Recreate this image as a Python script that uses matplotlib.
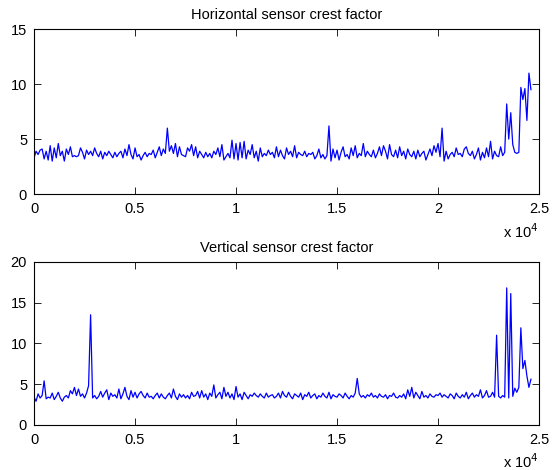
import matplotlib
matplotlib.use("Agg")
import matplotlib.pyplot as plt
import numpy as np

plt.rcParams["font.family"] = ["Liberation Sans", "DejaVu Sans"]

# sample positions (every 100 samples)
samples = np.arange(0, 24700, 100)

horizontal_cf = [
    3.3, 3.9, 3.6, 4.0, 4.1, 3.2, 3.9, 3.1, 4.4, 3.0, 4.2, 3.3, 4.6, 3.5, 3.9, 3.0, 4.1, 3.6, 4.3, 3.4,
    3.5, 3.4, 3.5, 4.2, 3.8, 3.2, 4.0, 3.6, 3.9, 3.5, 4.2, 3.7, 3.4, 3.9, 3.2, 3.8, 3.5, 3.9, 3.6, 3.3,
    3.8, 3.4, 3.7, 3.9, 3.3, 4.1, 3.5, 4.5, 3.6, 3.2, 4.2, 3.4, 3.6, 3.1, 3.5, 3.8, 3.4, 3.7, 3.6, 4.0,
    3.3, 3.8, 4.3, 3.5, 4.1, 3.7, 6.0, 3.9, 4.4, 3.7, 4.6, 3.4, 4.3, 3.6, 3.5, 3.4, 4.2, 3.9, 4.5, 3.5,
    4.3, 3.3, 3.9, 3.6, 3.3, 3.8, 3.4, 3.7, 3.3, 3.9, 3.6, 4.2, 3.4, 4.5, 3.1, 3.4, 3.7, 3.3, 4.9, 3.2,
    4.6, 3.1, 4.7, 3.3, 4.8, 3.2, 4.0, 3.6, 4.5, 3.3, 3.9, 3.0, 4.2, 3.4, 3.7, 3.5, 4.0, 3.6, 3.8, 3.3,
    4.3, 3.4, 4.0, 3.5, 3.2, 4.2, 3.6, 3.9, 3.4, 4.4, 3.3, 3.8, 3.6, 3.5, 3.9, 3.4, 3.7, 3.6, 3.8, 3.2,
    3.5, 4.1, 3.3, 3.6, 3.2, 3.5, 6.2, 3.0, 4.1, 3.3, 4.0, 3.1, 3.8, 4.3, 3.4, 3.6, 3.2, 4.2, 3.5, 4.4,
    3.3, 3.7, 3.5, 4.6, 3.4, 3.9, 3.6, 3.4, 4.0, 3.3, 3.7, 4.3, 3.5, 4.4, 3.9, 3.2, 4.5, 3.6, 3.4, 4.0,
    3.3, 4.3, 3.5, 3.9, 3.2, 4.1, 3.6, 3.4, 3.9, 3.2, 4.0, 3.4, 3.7, 3.9, 3.1, 3.6, 4.1, 3.5, 4.4, 3.8,
    4.6, 3.4, 6.0, 3.0, 3.9, 3.2, 3.6, 3.8, 3.4, 4.2, 3.6, 3.7, 3.4, 4.1, 4.3, 3.7, 3.5, 3.9, 3.2, 3.6,
    4.2, 3.1, 3.8, 3.3, 4.2, 3.4, 4.8, 3.2, 3.9, 3.5, 3.4, 4.3, 3.5, 3.8, 8.2, 5.0, 7.4, 4.5, 3.8, 3.7,
    3.8, 9.7, 8.6, 9.6, 6.7, 11.0, 9.5,
]

vertical_cf = [
    3.4, 2.9, 3.8, 3.3, 3.6, 5.4, 3.2, 3.4, 3.3, 3.9, 3.1, 3.5, 4.0, 3.3, 2.9, 3.4, 3.6, 3.3, 4.2, 3.8,
    4.6, 3.6, 4.4, 3.5, 3.8, 3.3, 3.9, 4.8, 13.5, 3.3, 3.6, 3.2, 3.5, 4.1, 3.4, 3.9, 4.3, 3.1, 3.9, 3.5,
    3.7, 3.3, 4.4, 3.2, 3.8, 4.6, 3.5, 3.1, 4.2, 3.4, 4.0, 3.3, 3.8, 4.1, 3.6, 3.3, 3.9, 3.4, 3.5, 3.2,
    3.6, 3.9, 3.3, 3.8, 3.4, 3.2, 3.6, 3.9, 3.3, 4.4, 3.5, 3.1, 3.8, 3.4, 3.7, 3.3, 3.6, 3.2, 4.0, 3.5,
    3.6, 4.1, 3.3, 4.2, 3.4, 3.8, 3.1, 3.9, 3.5, 4.9, 3.3, 3.7, 4.0, 3.2, 4.6, 3.5, 4.0, 3.3, 3.8, 3.1,
    4.7, 3.4, 3.8, 3.1, 4.0, 3.6, 3.2, 3.7, 3.5, 3.9, 3.6, 3.4, 3.8, 3.5, 3.3, 3.9, 3.4, 3.6, 3.7, 3.3,
    3.5, 3.9, 3.3, 4.1, 3.6, 3.4, 4.0, 3.5, 3.2, 3.8, 3.6, 3.4, 3.9, 3.1, 3.7, 3.5, 4.0, 3.3, 3.6, 3.8,
    3.2, 3.6, 3.4, 3.9, 3.5, 3.3, 4.0, 3.2, 3.7, 3.5, 3.4, 3.8, 3.6, 3.3, 3.9, 3.5, 3.2, 3.6, 3.4, 3.9,
    5.7, 3.8, 3.4, 3.6, 3.3, 3.7, 3.5, 3.9, 3.4, 3.6, 3.3, 3.8, 3.5, 3.4, 3.7, 3.2, 3.6, 3.5, 3.9, 3.4,
    3.3, 3.6, 3.4, 3.8, 3.2, 4.3, 3.5, 4.6, 3.3, 4.0, 3.6, 3.2, 4.1, 3.4, 3.6, 3.3, 3.8, 3.5, 3.4, 3.7,
    3.6, 3.9, 3.4, 3.7, 3.5, 3.3, 3.8, 3.6, 3.2, 3.9, 3.5, 3.3, 3.7, 3.4, 4.0, 3.2, 3.6, 3.9, 3.4, 3.7,
    3.5, 4.3, 3.3, 3.6, 4.2, 3.4, 3.5, 4.0, 3.4, 11.0, 3.5, 3.3, 3.6, 3.4, 16.8, 3.3, 16.1, 3.5, 4.5, 4.0,
    4.6, 11.9, 6.9, 7.9, 6.0, 4.6, 5.6,
]

xticks = [0, 5000, 10000, 15000, 20000, 25000]
xticklabels = ["0", "0.5", "1", "1.5", "2", "2.5"]
FS = 10.5


def style_axis(ax, ylim, yticks, title):
    ax.set_xlim(0, 25000)
    ax.set_ylim(*ylim)
    ax.set_yticks(yticks)
    ax.set_xticks(xticks)
    ax.set_xticklabels(xticklabels)
    ax.tick_params(direction="in", length=5, width=0.6, labelsize=FS,
                   top=True, right=True)
    ax.tick_params(axis="x", pad=6)
    ax.tick_params(axis="y", pad=5)
    for sp in ax.spines.values():
        sp.set_linewidth(0.8)
        sp.set_color("black")
    ax.set_title(title, fontsize=FS, pad=7)
    ax.text(1.0, -0.17, r"x 10$^{4}$", transform=ax.transAxes,
            ha="right", va="top", fontsize=FS)


fig = plt.figure(figsize=(5.58, 4.70), dpi=100)
ax_top = fig.add_axes([0.061, 0.587, 0.905, 0.351])
ax_bot = fig.add_axes([0.061, 0.096, 0.905, 0.347])

ax_top.plot(samples, horizontal_cf, color="#0000ff", linewidth=0.9)
style_axis(ax_top, (0, 15), [0, 5, 10, 15], "Horizontal sensor crest factor")

ax_bot.plot(samples, vertical_cf, color="#0000ff", linewidth=0.9)
style_axis(ax_bot, (0, 20), [0, 5, 10, 15, 20], "Vertical sensor crest factor")

fig.savefig("out.png", dpi=100)
